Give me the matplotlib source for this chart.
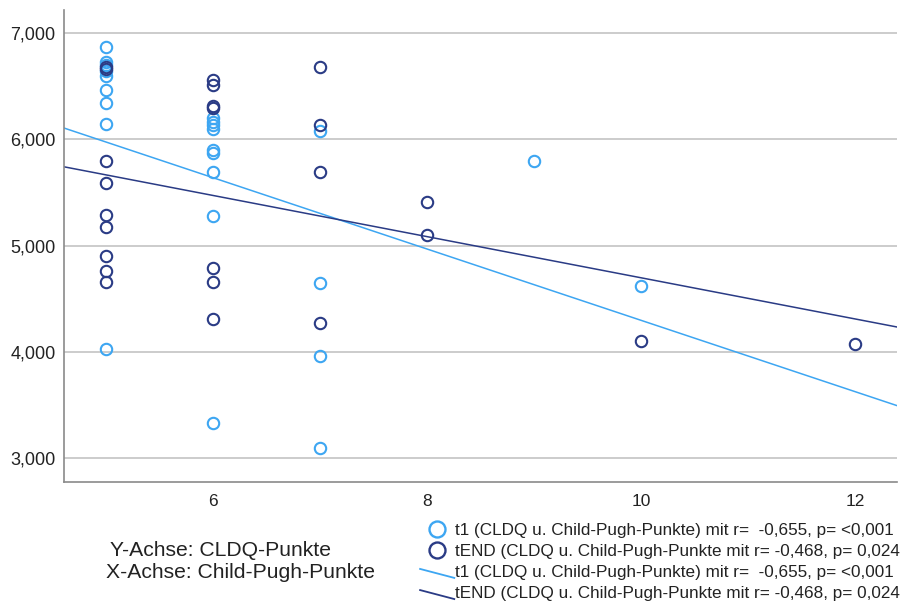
import numpy as np
import matplotlib
matplotlib.use("Agg")
import matplotlib.pyplot as plt
from matplotlib.lines import Line2D
from matplotlib.legend_handler import HandlerBase

plt.rcParams['font.family'] = ['Liberation Sans', 'DejaVu Sans']

# t1 (light blue) points
t1_x = [5, 5, 5, 5, 5, 5, 5, 5, 5,
        6, 6, 6, 6, 6, 6, 6, 6, 6,
        7, 7, 7, 7,
        9, 10]
t1_y = [6870, 6730, 6700, 6640, 6600, 6460, 6345, 6145, 4030,
        6200, 6160, 6130, 6100, 5900, 5870, 5690, 5280, 3330,
        6080, 4650, 3960, 3090,
        5800, 4620]

# tEND (dark blue) points
tend_x = [5, 5, 5, 5, 5, 5, 5, 5, 5,
          6, 6, 6, 6, 6, 6, 6,
          7, 7, 7, 7,
          8, 8, 10, 12]
tend_y = [6680, 6660, 5800, 5590, 5290, 5170, 4900, 4760, 4660,
          6560, 6510, 6310, 6290, 4790, 4660, 4305,
          6680, 6130, 5690, 4270,
          5410, 5100, 4100, 4070]

# fit lines, values read at the x-axis limits
fit_x = [4.61, 12.39]
fit_t1 = [6106, 3493]
fit_tend = [5741, 4233]

x_ticks = [6, 8, 10, 12]
y_ticks = [3000, 4000, 5000, 6000, 7000]
y_labels = ['3,000', '4,000', '5,000', '6,000', '7,000']

lab_t1_pt = 't1 (CLDQ u. Child-Pugh-Punkte) mit r=  -0,655, p= <0,001'
lab_tend_pt = 'tEND (CLDQ u. Child-Pugh-Punkte mit r= -0,468, p= 0,024'

c_light = '#3DA6F2'
c_dark = '#2A3B85'
txt = '#222222'


class DiagHandler(HandlerBase):
    def create_artists(self, legend, orig, xd, yd, w, h, fs, trans):
        ln = Line2D([-xd, -xd + w], [-yd + h * 0.7, -yd - h * 0.05])
        ln.set_color(orig.get_color())
        ln.set_linewidth(orig.get_linewidth())
        ln.set_transform(trans)
        return [ln]


fig = plt.figure(figsize=(9.03, 6.02), dpi=100)
ax = fig.add_axes([64 / 903, 1 - 482 / 602, (897 - 64) / 903, (482 - 10) / 602])

ax.plot(fit_x, fit_t1, color=c_light, lw=1.1, zorder=2)
ax.plot(fit_x, fit_tend, color=c_dark, lw=1.1, zorder=2)
ax.plot(t1_x, t1_y, 'o', ms=8.2, mfc='none', mec=c_light, mew=1.5, zorder=3)
ax.plot(tend_x, tend_y, 'o', ms=8.2, mfc='none', mec=c_dark, mew=1.5, zorder=3)

ax.set_xlim(fit_x)
ax.set_ylim(2774, 7217)
ax.set_xticks(x_ticks)
ax.set_xticklabels([str(v) for v in x_ticks], fontsize=12.5, color=txt)
ax.set_yticks(y_ticks)
ax.set_yticklabels(y_labels, fontsize=13, color=txt)
ax.tick_params(axis='y', length=0, pad=6)
ax.tick_params(axis='x', length=0, pad=9)
ax.grid(axis='y', color='#C4C4C4', lw=1.2)
ax.set_axisbelow(True)
for s in ['top', 'right']:
    ax.spines[s].set_visible(False)
for s in ['left', 'bottom']:
    ax.spines[s].set_color('#8A8A8A')
    ax.spines[s].set_linewidth(1.2)

h1 = Line2D([], [], ls='none', marker='o', ms=11.5, mfc='none', mec=c_light, mew=1.7)
h2 = Line2D([], [], ls='none', marker='o', ms=11.5, mfc='none', mec=c_dark, mew=1.7)
h3 = Line2D([], [], color=c_light, lw=1.3)
h4 = Line2D([], [], color=c_dark, lw=1.3)
fig.legend([h1, h2, h3, h4], [lab_t1_pt, lab_tend_pt, lab_t1_pt, lab_tend_pt],
           handler_map={h3: DiagHandler(), h4: DiagHandler()},
           loc='upper right', bbox_to_anchor=(900 / 903, 1 - 523 / 602),
           frameon=False, fontsize=12.3, handlelength=2.0, handletextpad=0.05,
           labelspacing=0.36, borderaxespad=0, borderpad=0, labelcolor=txt)

fig.text(110 / 903, 1 - 551 / 602, 'Y-Achse: CLDQ-Punkte', fontsize=15.2,
         color=txt, va='center', ha='left')
fig.text(106 / 903, 1 - 573 / 602, 'X-Achse: Child-Pugh-Punkte', fontsize=15.2,
         color=txt, va='center', ha='left')

fig.savefig('out.png', dpi=100)
